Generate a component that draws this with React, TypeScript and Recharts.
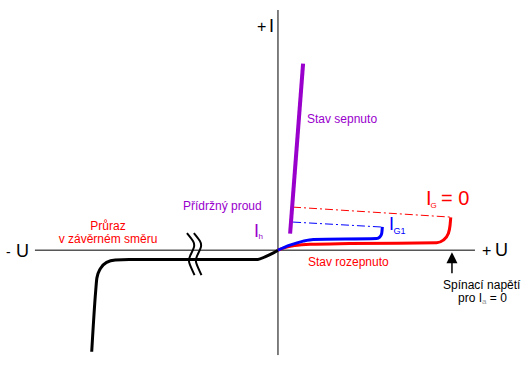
import { ComposedChart, Line, ReferenceDot, ReferenceLine, XAxis, YAxis } from 'recharts';

// thyristor V-A characteristic, arbitrary units (u = voltage, i = current)
const redCurve = [
  { u: 0, i: 0 },
  { u: 4, i: 1.4 },
  { u: 9.8, i: 2.5 },
  { u: 18.5, i: 3.2 },
  { u: 41.6, i: 3.6 },
  { u: 91.7, i: 4.0 },
  { u: 95.5, i: 5.4 },
  { u: 98.4, i: 9.0 },
  { u: 99.4, i: 13.5 },
  { u: 99.8, i: 17.7 },
];

const blueCurve = [
  { u: 0, i: 0 },
  { u: 6.9, i: 2.7 },
  { u: 14.6, i: 4.9 },
  { u: 20.4, i: 5.8 },
  { u: 57, i: 6.3 },
  { u: 58.9, i: 7.2 },
  { u: 59.9, i: 9.0 },
  { u: 60.3, i: 12.6 },
];

const reverseCurve = [
  { u: -107.6, i: -55 },
  { u: -105.3, i: -22 },
  { u: -104.6, i: -15 },
  { u: -102.6, i: -10 },
  { u: -99, i: -6.6 },
  { u: -94, i: -5.3 },
  { u: -86, i: -5 },
  { u: -45, i: -5 },
  { u: -11.6, i: -5 },
  { u: -7.5, i: -3.6 },
  { u: -3.5, i: -1.9 },
  { u: 0, i: 0 },
];

const onState = [
  { u: 7, i: 9 },
  { u: 14.5, i: 101 },
];

const redLatch = [
  { u: 8.7, i: 23.3 },
  { u: 99.6, i: 17.9 },
];

const blueLatch = [
  { u: 8.7, i: 15.2 },
  { u: 60.3, i: 12.5 },
];

const breakLeft = [
  { u: -52.6, i: 9.2 },
  { u: -49.1, i: 4.9 },
  { u: -48.6, i: 1.4 },
  { u: -50.8, i: -3.2 },
  { u: -51.2, i: -7 },
  { u: -48.2, i: -13.5 },
];
const breakRight = breakLeft.map((p) => ({ u: p.u + 4, i: p.i }));

const uAxis = [-140.4, 113.8];
const iAxis = [-56.8, 130];
const switchU = 100.5;

const RED = '#ff0000';
const BLUE = '#0000ff';
const PURPLE = '#9900cc';
const FONT = '"Liberation Sans", Arial, sans-serif';

const Arrow = (p: any) => (
  <polygon points={`${p.cx},${p.cy} ${p.cx - 5.5},${p.cy + 11} ${p.cx + 5.5},${p.cy + 11}`} fill="#000" />
);

export default function App() {
  return (
    <div style={{ position: 'relative', width: 530, height: 367, background: '#fff' }}>
      <style>{'body{margin:0}'}</style>
      <ComposedChart width={530} height={367} margin={{ top: 10, right: 1, bottom: 6, left: 1 }}>
        <XAxis type="number" dataKey="u" domain={[-160, 145]} hide allowDataOverflow />
        <YAxis type="number" dataKey="i" domain={[-60, 130]} hide allowDataOverflow />
        <ReferenceLine segment={[{ x: uAxis[0], y: 0 }, { x: uAxis[1], y: 0 }]} stroke="#000" strokeWidth={1} />
        <ReferenceLine segment={[{ x: 0, y: iAxis[0] }, { x: 0, y: iAxis[1] }]} stroke="#000" strokeWidth={1} />
        <Line data={reverseCurve} dataKey="i" type="monotone" stroke="#000" strokeWidth={3} dot={false} isAnimationActive={false} />
        <Line data={breakLeft} dataKey="i" type="natural" stroke="#000" strokeWidth={2} dot={false} isAnimationActive={false} />
        <Line data={breakRight} dataKey="i" type="natural" stroke="#000" strokeWidth={2} dot={false} isAnimationActive={false} />
        <Line data={redLatch} dataKey="i" type="linear" stroke={RED} strokeWidth={1} strokeDasharray="8 3 2 3" dot={false} isAnimationActive={false} />
        <Line data={blueLatch} dataKey="i" type="linear" stroke={BLUE} strokeWidth={1} strokeDasharray="8 3 2 3" dot={false} isAnimationActive={false} />
        <Line data={redCurve} dataKey="i" type="monotone" stroke={RED} strokeWidth={3} dot={false} isAnimationActive={false} />
        <Line data={blueCurve} dataKey="i" type="monotone" stroke={BLUE} strokeWidth={3} dot={false} isAnimationActive={false} />
        <Line data={onState} dataKey="i" type="linear" stroke={PURPLE} strokeWidth={4} dot={false} isAnimationActive={false} />
        <ReferenceLine segment={[{ x: switchU, y: -6 }, { x: switchU, y: -12.5 }]} stroke="#000" strokeWidth={1.5} />
        <ReferenceDot x={switchU} y={-1.1} r={0} shape={Arrow} />
      </ComposedChart>
      <svg width={530} height={367} style={{ position: 'absolute', left: 0, top: 0, pointerEvents: 'none' }} fontFamily={FONT}>
        <text x={257} y={32} fontSize={16}>+</text>
        <text x={269} y={32} fontSize={18}>I</text>
        <text x={6} y={257} fontSize={14}>-</text>
        <text x={16} y={257} fontSize={18}>U</text>
        <text x={482} y={256} fontSize={16}>+</text>
        <text x={495} y={256} fontSize={18}>U</text>

        <text x={307} y={122.5} fontSize={12} fill={PURPLE}>Stav sepnuto</text>
        <text x={183} y={210} fontSize={12} fill={PURPLE}>Přídržný proud</text>
        <text x={254} y={237} fontSize={18} fill={PURPLE}>I</text>
        <text x={258.5} y={239} fontSize={8} fill={PURPLE}>h</text>

        <text x={108} y={230} fontSize={12} fill={RED} textAnchor="middle">Průraz</text>
        <text x={108} y={243} fontSize={12} fill={RED} textAnchor="middle">v závěrném směru</text>
        <text x={308} y={266} fontSize={12} fill={RED}>Stav rozepnuto</text>

        <text x={426} y={205} fontSize={20} fill={RED}>I</text>
        <text x={430.5} y={207.5} fontSize={8} fill={RED}>G</text>
        <text x={441} y={205} fontSize={20} fill={RED}>= 0</text>

        <text x={389} y={230} fontSize={18} fill={BLUE}>I</text>
        <text x={393.5} y={233.5} fontSize={9} fill={BLUE}>G1</text>

        <text x={443} y={289} fontSize={12}>Spínací napětí</text>
        <text x={458} y={302} fontSize={12}>
          pro I<tspan fontSize={8} fill="#999" dy={2}>a</tspan>
          <tspan dy={-2}> = 0</tspan>
        </text>
      </svg>
    </div>
  );
}
